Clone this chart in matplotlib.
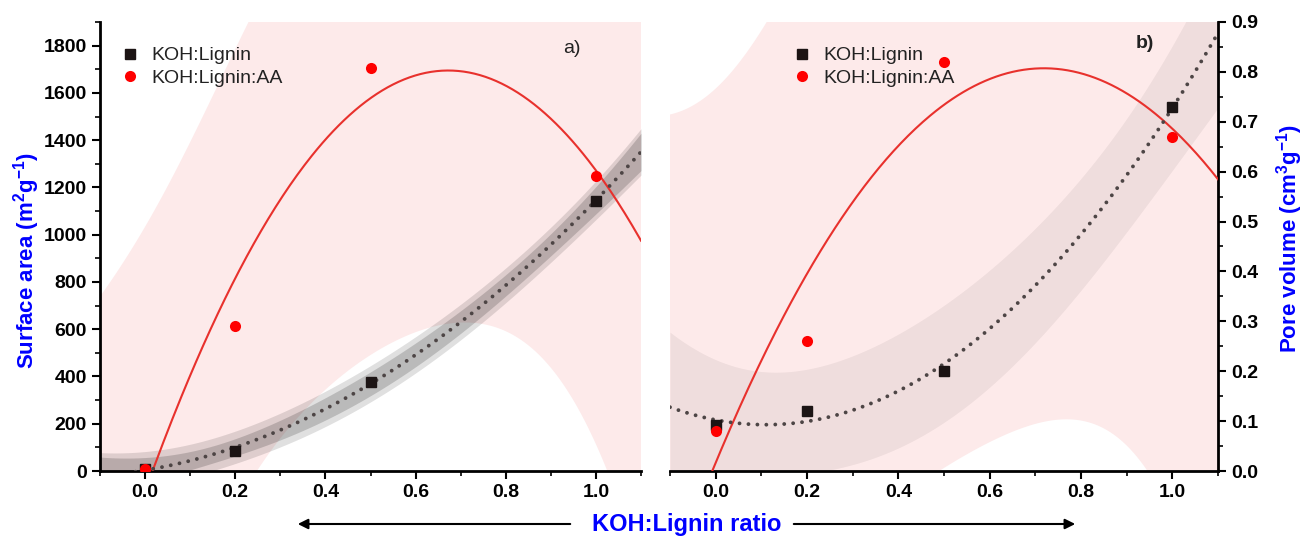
import numpy as np
import matplotlib
matplotlib.use("Agg")
import matplotlib.pyplot as plt
from matplotlib.patches import FancyArrowPatch
from matplotlib.ticker import MultipleLocator, FormatStrFormatter

plt.rcParams['font.family'] = ['Liberation Sans', 'DejaVu Sans']
plt.rcParams['mathtext.default'] = 'regular'

# data
ratio = np.array([0.0, 0.2, 0.5, 1.0])
sa_koh = np.array([10, 86, 378, 1144])
sa_aa = np.array([10, 615, 1706, 1248])
pv_koh = np.array([0.092, 0.121, 0.201, 0.730])
pv_aa = np.array([0.081, 0.261, 0.820, 0.670])

T95 = 3.182  # t value used for the bands


def quad_fit(x, y, xs):
    # 2nd order polynomial fit with confidence / prediction bands
    X = np.vander(x, 3, increasing=True)
    coef = np.linalg.lstsq(X, y, rcond=None)[0]
    r = y - X @ coef
    s2 = r @ r / (len(x) - 3)
    cov = np.linalg.inv(X.T @ X)
    Xs = np.vander(xs, 3, increasing=True)
    h = np.einsum('ij,jk,ik->i', Xs, cov, Xs)
    fit = Xs @ coef
    return fit, T95 * np.sqrt(s2 * h), T95 * np.sqrt(s2 * (1 + h))


xs = np.linspace(-0.1, 1.1, 300)
PINK = '#fdeaea'
RED = '#e8312d'
DOT = '#4d4545'
BLUE = '#0000ff'

fig = plt.figure(figsize=(13.09, 5.39), dpi=100)
ax1 = fig.add_axes([100 / 1309, 68 / 539, 541 / 1309, 449 / 539])
ax2 = fig.add_axes([670 / 1309, 68 / 539, 548 / 1309, 449 / 539])

panels = [(ax1, sa_koh, sa_aa, 1900, 200, 100, 0.12, 0.17),
          (ax2, pv_koh, pv_aa, 0.9, 0.1, 0.05, 0.055, 0.0)]

for ax, yk, ya, ymax, major, minor, a_pred, a_conf in panels:
    fa, ca, pa = quad_fit(ratio, ya, xs)
    fk, ck, pk = quad_fit(ratio, yk, xs)
    ax.fill_between(xs, fa - pa, fa + pa, color=PINK, lw=0, zorder=1)
    ax.fill_between(xs, fk - pk, fk + pk, color='k', alpha=a_pred, lw=0, zorder=2)
    if a_conf > 0:
        ax.fill_between(xs, fk - ck, fk + ck, color='k', alpha=a_conf, lw=0, zorder=2)
    ax.plot(xs, fa, color=RED, lw=1.5, zorder=3)
    ax.plot(xs, fk, color=DOT, lw=2.8, linestyle=(0, (0.001, 2.3)),
            dash_capstyle='round', zorder=3)
    ax.plot(ratio, yk, 's', color='#1c1414', ms=6.5, zorder=4, label='KOH:Lignin')
    ax.plot(ratio, ya, 'o', color='#ff0000', ms=8, mew=0, zorder=4, label='KOH:Lignin:AA')

    ax.set_xlim(-0.1, 1.1)
    ax.set_ylim(0, ymax)
    ax.xaxis.set_major_locator(MultipleLocator(0.2))
    ax.xaxis.set_minor_locator(MultipleLocator(0.1))
    ax.xaxis.set_major_formatter(FormatStrFormatter('%.1f'))
    ax.yaxis.set_major_locator(MultipleLocator(major))
    ax.yaxis.set_minor_locator(MultipleLocator(minor))
    ax.tick_params(which='major', length=6, width=1.5, labelsize=14)
    ax.tick_params(which='minor', length=3.5, width=1.2)
    for sp in ax.spines.values():
        sp.set_linewidth(2)
    ax.spines['top'].set_visible(False)

ax1.spines['right'].set_visible(False)
ax2.spines['left'].set_visible(False)
ax2.yaxis.tick_right()
ax2.yaxis.set_major_formatter(FormatStrFormatter('%.1f'))
fig.canvas.draw()
for ax in (ax1, ax2):
    for lab in ax.get_xticklabels() + ax.get_yticklabels():
        lab.set_fontweight('bold')

fig.text(27 / 1309, 1 - 261 / 539, 'Surface area (m$\\mathregular{^2}$g$\\mathregular{^{-1}}$)',
         color=BLUE, fontsize=16, fontweight='bold', rotation=90,
         ha='center', va='center')
fig.text(1290 / 1309, 1 - 238 / 539, 'Pore volume (cm$\\mathregular{^3}$g$\\mathregular{^{-1}}$)',
         color=BLUE, fontsize=16, fontweight='bold', rotation=90,
         ha='center', va='center')

ax1.legend(loc='upper left', bbox_to_anchor=(0.02, 0.962), frameon=False,
           fontsize=14, handletextpad=0.5, borderaxespad=0, labelspacing=0.25,
           handlelength=1.2, labelcolor='#222222')
ax2.legend(loc='upper left', bbox_to_anchor=(0.205, 0.962), frameon=False,
           fontsize=14, handletextpad=0.5, borderaxespad=0, labelspacing=0.25,
           handlelength=1.2, labelcolor='#222222')

ax1.text(0.872, 0.94, 'a)', transform=ax1.transAxes, fontsize=14,
         ha='center', va='center', color='#222222')
ax2.text(0.867, 0.953, 'b)', transform=ax2.transAxes, fontsize=14,
         ha='center', va='center', fontweight='bold', color='#222222')

# shared x label with arrows
yl = 1 - 524 / 539
fig.text(687 / 1309, yl, 'KOH:Lignin ratio', color=BLUE, fontsize=17,
         fontweight='bold', ha='center', va='center')
for x0, x1 in [(573, 295), (791, 1078)]:
    fig.add_artist(FancyArrowPatch((x0 / 1309, yl), (x1 / 1309, yl),
                                   transform=fig.transFigure, arrowstyle='-|>',
                                   mutation_scale=15, lw=1.5, color='k'))

fig.savefig('out.png', dpi=100)
